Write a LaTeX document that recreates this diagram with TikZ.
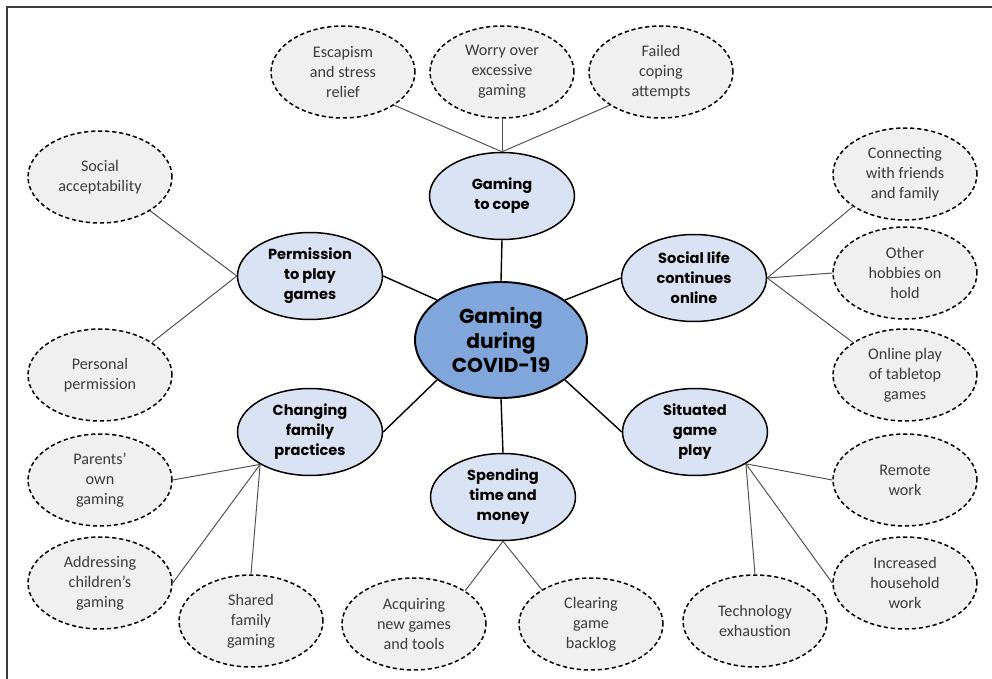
\documentclass[tikz,border=0pt]{standalone}
\usepackage{fontspec}
\setmainfont{Carlito}
\newfontfamily\themefont{Poppins}
\usetikzlibrary{shapes.geometric}
\definecolor{coreblue}{RGB}{128,166,219}
\definecolor{themeblue}{RGB}{218,227,243}
\definecolor{leafgray}{RGB}{240,240,240}
\definecolor{leaftext}{RGB}{60,60,60}
\definecolor{linkgray}{RGB}{80,80,80}
\definecolor{framegray}{RGB}{60,60,60}
\tikzset{
	core/.style={ellipse,draw,line width=1.1pt,fill=coreblue,minimum width=3.44cm,minimum height=2.32cm,inner sep=0pt,align=center,font=\themefont\bfseries\fontsize{11.5}{13.7}\selectfont},%
	theme/.style={ellipse,draw,line width=0.85pt,fill=themeblue,minimum width=2.9cm,minimum height=1.74cm,inner sep=0pt,align=center,font=\themefont\bfseries\fontsize{8.3}{11.4}\selectfont},%
	leaf/.style={ellipse,draw,dash pattern=on 2.4pt off 1.6pt,line width=0.85pt,fill=leafgray,text=leaftext,minimum width=2.88cm,minimum height=1.84cm,inner sep=0pt,align=center,font=\fontsize{9.2}{11.4}\selectfont},%
	themelink/.style={line width=0.8pt},%
	leaflink/.style={line width=0.55pt,draw=linkgray},%
	frame/.style={line width=1.2pt,draw=framegray},%
}

\begin{document}
\begin{tikzpicture}[x=0.02cm,y=-0.02cm]
		\useasboundingbox (0,0) rectangle (992,679);
		\draw[frame] (7,690) -- (7,7) -- (1000,7);
		% centre and themes
		\node[core] (core) at (501,340) {Gaming\\during\\COVID-19};
		\node[theme] (cope) at (502,196) {Gaming\\to cope};
		\node[theme] (permit) at (310,276) {Permission\\to play\\games};
		\node[theme] (family) at (310,432) {Changing\\family\\practices};
		\node[theme] (social) at (694,278) {Social life\\continues\\online};
		\node[theme] (situated) at (695,432) {Situated\\game\\play};
		\node[theme] (spending) at (503,497) {Spending\\time and\\money};
		% sub-themes
		\node[leaf] (escape) at (343,72) {Escapism\\and stress\\relief};
		\node[leaf] (worry) at (502,72) {Worry over\\excessive\\gaming};
		\node[leaf] (failed) at (661,72) {Failed\\coping\\attempts};
		\node[leaf] (accept) at (100,177) {Social\\acceptability};
		\node[leaf] (personal) at (100,375) {Personal\\permission};
		\node[leaf] (parents) at (100,480) {Parents’\\own\\gaming};
		\node[leaf] (children) at (100,583) {Addressing\\children’s\\gaming};
		\node[leaf] (shared) at (251,621) {Shared\\family\\gaming};
		\node[leaf] (acquire) at (414,624) {Acquiring\\new games\\and tools};
		\node[leaf] (backlog) at (591,624) {Clearing\\game\\backlog};
		\node[leaf] (techno) at (755,621) {Technology\\exhaustion};
		\node[leaf] (household) at (905,583) {Increased\\household\\work};
		\node[leaf] (remote) at (905,480) {Remote\\work};
		\node[leaf] (tabletop) at (905,375) {Online play\\of tabletop\\games};
		\node[leaf] (hobbies) at (905,273) {Other\\hobbies on\\hold};
		\node[leaf] (friends) at (905,174) {Connecting\\with friends\\and family};
		% centre to themes
		\draw[themelink] (cope.south) -- (core.north);
		\draw[themelink] (permit.east) -- (core.148);
		\draw[themelink] (family.east) -- (core.212);
		\draw[themelink] (social.west) -- (core.32);
		\draw[themelink] (situated.west) -- (core.-32);
		\draw[themelink] (spending.north) -- (core.south);
		% themes to sub-themes
		\draw[leaflink] (cope.north) -- (escape.-33);
		\draw[leaflink] (cope.north) -- (worry.south);
		\draw[leaflink] (cope.north) -- (failed.213);
		\draw[leaflink] (permit.west) -- (accept.-34);
		\draw[leaflink] (permit.west) -- (personal.32);
		\draw[leaflink] (family.213) -- (parents.east);
		\draw[leaflink] (family.213) -- (children.east);
		\draw[leaflink] (family.213) -- (shared.north);
		\draw[leaflink] (spending.south) -- (acquire.33);
		\draw[leaflink] (spending.south) -- (backlog.145);
		\draw[leaflink] (situated.-32) -- (techno.north);
		\draw[leaflink] (situated.-32) -- (household.west);
		\draw[leaflink] (situated.-32) -- (remote.west);
		\draw[leaflink] (social.east) -- (tabletop.148);
		\draw[leaflink] (social.east) -- (hobbies.west);
		\draw[leaflink] (social.east) -- (friends.212);
	\end{tikzpicture}
\end{document}
